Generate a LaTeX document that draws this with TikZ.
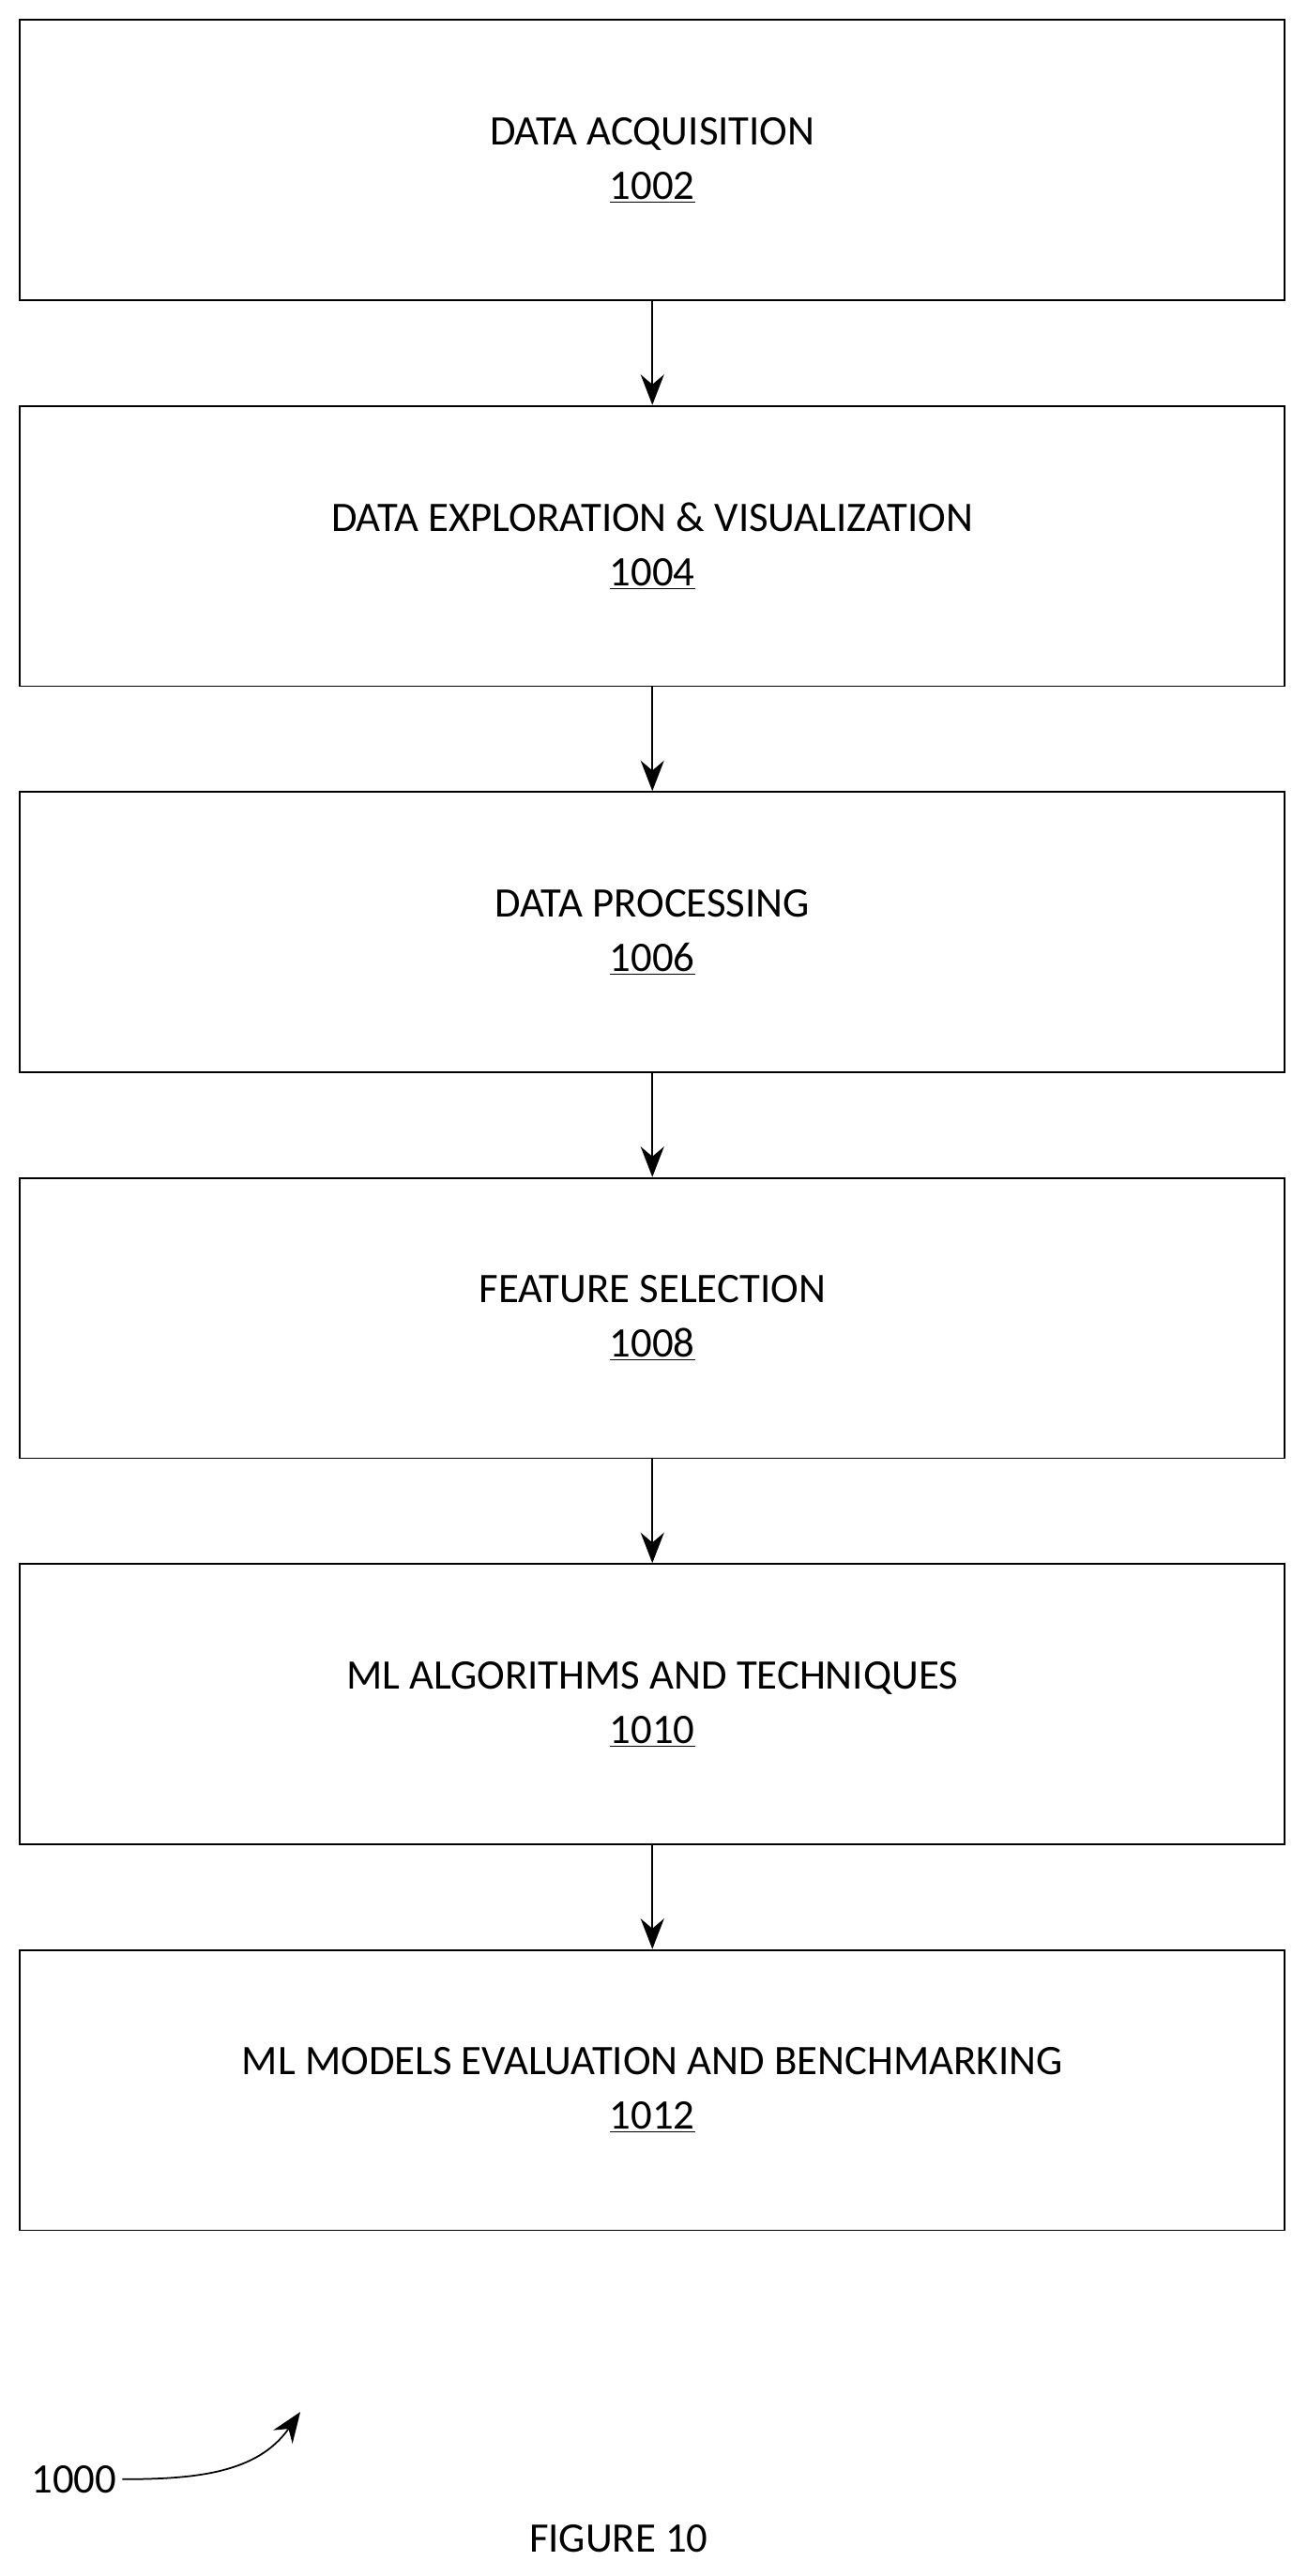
\documentclass[tikz,border=0pt]{standalone}
\usepackage{fontspec}
\setmainfont{Carlito}
\usetikzlibrary{positioning}
\usetikzlibrary{arrows.meta}

\begin{document}
\begin{tikzpicture}[x=0.035cm,y=-0.035cm,
        stage/.style={draw, line width=1pt, minimum width=26.98cm, minimum height=5.98cm,
            align=center, font=\fontsize{25.5}{33}\selectfont},
        flow/.style={-{Stealth[length=0.65cm,width=0.5cm]}, line width=1pt}]
    % Page frame
    \useasboundingbox (0,0) rectangle (797,1570);

    % Stages
    \node[stage] (acq) at (397.5,97.5) {DATA ACQUISITION\\\underline{1002}};
    \node[stage, below=2.22cm of acq] (expl) {DATA EXPLORATION \& VISUALIZATION\\\underline{1004}};
    \node[stage, below=2.22cm of expl] (proc) {DATA PROCESSING\\\underline{1006}};
    \node[stage, below=2.22cm of proc] (feat) {FEATURE SELECTION\\\underline{1008}};
    \node[stage, below=2.22cm of feat] (algo) {ML ALGORITHMS AND TECHNIQUES\\\underline{1010}};
    \node[stage, below=2.22cm of algo] (eval) {ML MODELS EVALUATION AND BENCHMARKING\\\underline{1012}};

    % Connections
    \draw[flow] (acq) -- (expl);
    \draw[flow] (expl) -- (proc);
    \draw[flow] (proc) -- (feat);
    \draw[flow] (feat) -- (algo);
    \draw[flow] (algo) -- (eval);

    % Reference label
    \node[font=\fontsize{25.5}{29}\selectfont] (ref) at (45,1511) {1000};
    \coordinate (reftip) at (183,1470);
    \draw[flow] (ref.east) to[out=0, in=235] (reftip);
    \node[font=\fontsize{25.5}{29}\selectfont] (fig) at (377,1547) {FIGURE 10};
\end{tikzpicture}
\end{document}
